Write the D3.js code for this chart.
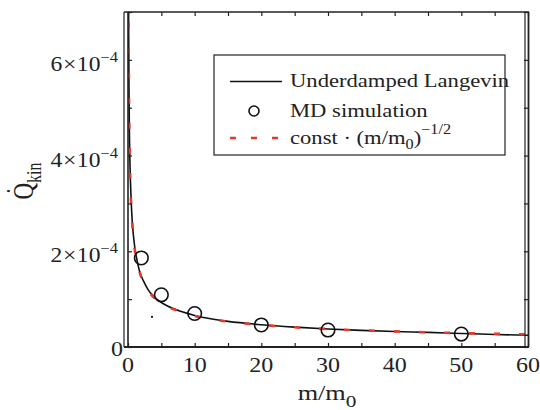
<!DOCTYPE html>
<html>
<head>
<meta charset="utf-8">
<script src="https://cdn.jsdelivr.net/npm/d3@7"></script>
<style>
  body { margin: 0; background: #fff; }
  text { font-family: "Liberation Serif", "Times New Roman", serif; fill: #222; }
</style>
</head>
<body>
<svg width="540" height="410"></svg>
<script>
// valores (Q em unidades de 1e-4)
const mdMass = [2, 5, 10, 20, 30, 50];
const mdQ = [1.86, 1.09, 0.70, 0.46, 0.355, 0.27];

const langevinMass = [0.08, 0.1, 0.15, 0.2, 0.3, 0.45, 0.6, 0.8, 1, 1.3, 1.7, 2, 2.5, 3, 4, 5, 6, 8, 10, 12, 15, 20, 25, 30, 35, 40, 45, 50, 55, 60];
const langevinQ = [7.3, 6.6, 5.4, 4.6, 3.8, 3.15, 2.7, 2.35, 2.1, 1.85, 1.6, 1.48, 1.33, 1.2, 1.04, 0.93, 0.85, 0.74, 0.66, 0.6, 0.535, 0.465, 0.415, 0.375, 0.348, 0.325, 0.305, 0.283, 0.262, 0.245];

const fitMass = [0.08, 0.1, 0.15, 0.2, 0.3, 0.45, 0.6, 0.8, 1, 1.3, 1.7, 2, 2.5, 3, 4, 5, 6, 8, 10, 12, 15, 20, 25, 30, 35, 40, 45, 50, 55, 60];
const fitQ = [7.3, 6.5, 5.3, 4.6, 3.75, 3.05, 2.65, 2.3, 2.05, 1.8, 1.58, 1.45, 1.3, 1.18, 1.02, 0.92, 0.84, 0.73, 0.65, 0.595, 0.53, 0.46, 0.412, 0.376, 0.348, 0.326, 0.306, 0.29, 0.276, 0.265];

const strayDot = [[3.6, 0.63]]; // pontinho solto na figura

const xTicks = [0, 10, 20, 30, 40, 50, 60];
const yTickLabels = [0, 2, 4, 6];

const svg = d3.select("svg");

const x = d3.scaleLinear()
    .domain([0, 60])
    .range([128, 528]);

const y = d3.scaleLinear()
    .domain([0, 7])
    .range([347, 12]);

// texto com leve esticamento horizontal, como na figura original
function stxt(parent, tx, ty, size, anchor, sx) {
  return parent.append("text")
      .attr("transform", "translate(" + tx + "," + ty + ") scale(" + sx + ",1)")
      .attr("font-size", size)
      .attr("text-anchor", anchor);
}

// linhas de curva
const line = d3.line()
    .x(d => x(d[0]))
    .y(d => y(d[1]))
    .curve(d3.curveMonotoneX);

svg.append("clipPath").attr("id", "plot")
  .append("rect")
    .attr("x", 128).attr("y", 12)
    .attr("width", 400).attr("height", 335);

const plot = svg.append("g").attr("clip-path", "url(#plot)");

plot.append("path")
    .datum(d3.zip(langevinMass, langevinQ))
    .attr("fill", "none")
    .attr("stroke", "#111")
    .attr("stroke-width", 1.6)
    .attr("d", line);

plot.append("path")
    .datum(d3.zip(fitMass, fitQ))
    .attr("fill", "none")
    .attr("stroke", "#e8382a")
    .attr("stroke-width", 2.6)
    .attr("stroke-dasharray", "6,19")
    .attr("d", line);

plot.selectAll("circle.md")
  .data(d3.zip(mdMass, mdQ))
  .enter().append("circle")
    .attr("class", "md")
    .attr("cx", d => x(d[0]))
    .attr("cy", d => y(d[1]))
    .attr("r", 6.8)
    .attr("fill", "none")
    .attr("stroke", "#111")
    .attr("stroke-width", 1.6);

plot.selectAll("rect.dot")
  .data(strayDot)
  .enter().append("rect")
    .attr("class", "dot")
    .attr("x", d => x(d[0]) - 1)
    .attr("y", d => y(d[1]) - 1)
    .attr("width", 2).attr("height", 2)
    .attr("fill", "#222");

// eixos com tics para dentro
const axisColor = "#222";
const gx = svg.append("g").attr("transform", "translate(0,347)")
    .call(d3.axisBottom(x).tickValues(d3.range(0, 61, 5)).tickSize(-4).tickFormat(""));
const gxTop = svg.append("g").attr("transform", "translate(0,12)")
    .call(d3.axisTop(x).tickValues(d3.range(0, 61, 5)).tickSize(-4).tickFormat(""));
const gy = svg.append("g").attr("transform", "translate(128,0)")
    .call(d3.axisLeft(y).tickValues(d3.range(0, 8, 1)).tickSize(-4).tickFormat(""));
const gyRight = svg.append("g").attr("transform", "translate(528,0)")
    .call(d3.axisRight(y).tickValues(d3.range(0, 8, 1)).tickSize(-4).tickFormat(""));
[gx, gxTop, gy, gyRight].forEach(g => {
  g.selectAll(".domain").remove();
  g.selectAll("line").attr("stroke", axisColor).attr("stroke-width", 1.2);
});

// moldura (linhas duplas nas laterais)
svg.append("line").attr("x1", 124).attr("x2", 529).attr("y1", 12).attr("y2", 12)
    .attr("stroke", axisColor).attr("stroke-width", 1.6);
svg.append("line").attr("x1", 124).attr("x2", 529).attr("y1", 347).attr("y2", 347)
    .attr("stroke", axisColor).attr("stroke-width", 1.8);
[[124, 1.2], [128, 1.6], [525, 1.2], [528.5, 1.8]].forEach(([xx, w]) => {
  svg.append("line").attr("x1", xx).attr("x2", xx).attr("y1", 12).attr("y2", 347)
      .attr("stroke", axisColor).attr("stroke-width", w);
});

// rótulos dos tics
xTicks.forEach(d => {
  stxt(svg, x(d), 372, 20, "middle", 1.2).text(d);
});

yTickLabels.forEach(d => {
  if (d === 0) {
    stxt(svg, 123, y(d) + 9, 20, "end", 1.2).text("0");
    return;
  }
  const t = stxt(svg, 118, y(d) + 11, 20, "end", 1.18);
  t.append("tspan").text(d);
  t.append("tspan").attr("dx", 0.5).text("×");
  t.append("tspan").attr("dx", 0.5).text("10");
  t.append("tspan").attr("dy", -9).attr("font-size", 14).text("−4");
});

// títulos
const xt = stxt(svg, 327, 400, 21, "middle", 1.25);
xt.append("tspan").text("m/m");
xt.append("tspan").attr("dy", 7).attr("font-size", 17).text("0");

const ytit = svg.append("text")
    .attr("transform", "translate(33,181) rotate(-90) scale(1,1.3)")
    .attr("text-anchor", "middle")
    .attr("font-size", 23);
ytit.append("tspan").text("Q\u0307");
ytit.append("tspan").attr("dy", 6).attr("font-size", 16).text("kin");

// legenda
const lg = svg.append("g");
lg.append("rect")
    .attr("x", 214).attr("y", 55)
    .attr("width", 291).attr("height", 100)
    .attr("fill", "#fff")
    .attr("stroke", "#222")
    .attr("stroke-width", 1.2);

lg.append("line").attr("x1", 230).attr("x2", 282).attr("y1", 81.5).attr("y2", 81.5)
    .attr("stroke", "#111").attr("stroke-width", 1.6);
lg.append("circle").attr("cx", 254).attr("cy", 111).attr("r", 5)
    .attr("fill", "none").attr("stroke", "#111").attr("stroke-width", 1.6);
lg.append("line").attr("x1", 230).attr("x2", 282).attr("y1", 138).attr("y2", 138)
    .attr("stroke", "#e8382a").attr("stroke-width", 2.6).attr("stroke-dasharray", "6,15");

stxt(lg, 290, 87, 19.5, "start", 1.16).text("Underdamped Langevin");
stxt(lg, 290, 117, 19.5, "start", 1.16).text("MD simulation");
const lt = stxt(lg, 290, 144, 19.5, "start", 1.16);
lt.append("tspan").text("const · (m/m");
lt.append("tspan").attr("dy", 5).attr("font-size", 14).text("0");
lt.append("tspan").attr("dy", -5).text(")");
lt.append("tspan").attr("dy", -10).attr("font-size", 14).text("−1/2");
</script>
</body>
</html>
